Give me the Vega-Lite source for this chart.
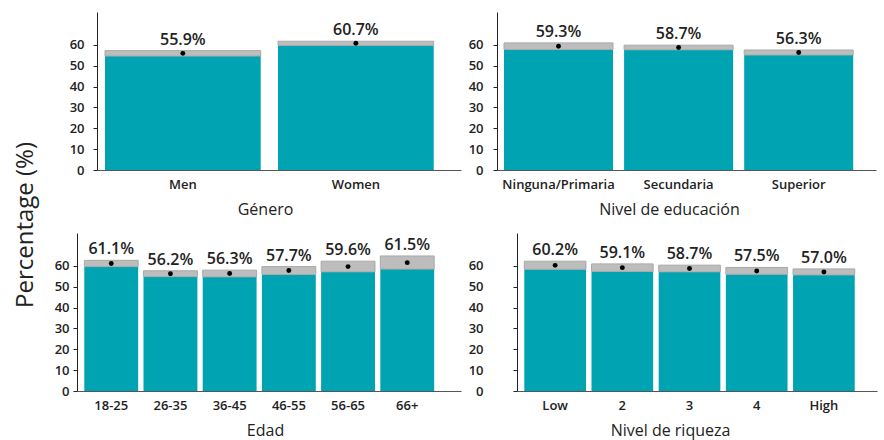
{
  "$schema": "https://vega.github.io/schema/vega-lite/v6.json",
  "padding": {"left": 13, "top": 12, "right": 3, "bottom": 3},
  "title": {"text": "Percentage (%)", "orient": "left", "anchor": "middle", "fontSize": 24, "fontWeight": 500, "offset": 13, "color": "#222", "font": "Open Sans"},
  "datasets": {
    "d": [
      {"g": "Género", "cat": "Men", "est": 55.9, "lo": 54.6, "hi": 57.2, "lbl": "55.9%"},
      {"g": "Género", "cat": "Women", "est": 60.7, "lo": 59.7, "hi": 61.7, "lbl": "60.7%"},
      {"g": "Educ", "cat": "Ninguna/Primaria", "est": 59.3, "lo": 57.7, "hi": 60.9, "lbl": "59.3%"},
      {"g": "Educ", "cat": "Secundaria", "est": 58.7, "lo": 57.6, "hi": 59.8, "lbl": "58.7%"},
      {"g": "Educ", "cat": "Superior", "est": 56.3, "lo": 55.1, "hi": 57.5, "lbl": "56.3%"},
      {"g": "Edad", "cat": "18-25", "est": 61.1, "lo": 59.6, "hi": 62.6, "lbl": "61.1%"},
      {"g": "Edad", "cat": "26-35", "est": 56.2, "lo": 54.8, "hi": 57.6, "lbl": "56.2%"},
      {"g": "Edad", "cat": "36-45", "est": 56.3, "lo": 54.7, "hi": 57.9, "lbl": "56.3%"},
      {"g": "Edad", "cat": "46-55", "est": 57.7, "lo": 55.8, "hi": 59.6, "lbl": "57.7%"},
      {"g": "Edad", "cat": "56-65", "est": 59.6, "lo": 57.1, "hi": 62.2, "lbl": "59.6%"},
      {"g": "Edad", "cat": "66+", "est": 61.5, "lo": 58.4, "hi": 64.7, "lbl": "61.5%"},
      {"g": "Riq", "cat": "Low", "est": 60.2, "lo": 58.3, "hi": 62.2, "lbl": "60.2%"},
      {"g": "Riq", "cat": "2", "est": 59.1, "lo": 57.3, "hi": 60.9, "lbl": "59.1%"},
      {"g": "Riq", "cat": "3", "est": 58.7, "lo": 57.1, "hi": 60.3, "lbl": "58.7%"},
      {"g": "Riq", "cat": "4", "est": 57.5, "lo": 55.9, "hi": 59.2, "lbl": "57.5%"},
      {"g": "Riq", "cat": "High", "est": 57.0, "lo": 55.6, "hi": 58.5, "lbl": "57.0%"}
    ]
  },
  "columns": 1,
  "align": "none",
  "spacing": 16,
  "concat": [
    {
      "spacing": -27,
      "hconcat": [
        {"width": 1, "height": 1, "data": {"values": []}, "mark": "point"},
        {
          "spacing": 7,
          "hconcat": [
            {
              "width": 364, "height": 158,
              "data": {"name": "d"},
              "transform": [{"filter": "datum.g === 'Género'"}],
              "encoding": {"x": {"field": "cat", "type": "nominal", "sort": null, "scale": {"paddingInner": 0.1, "paddingOuter": 0.102, "align": 0.227}, "axis": {"title": "Género", "titleX": 168}}},
              "layer": [
                {"mark": {"type": "bar", "color": "#00a3b2"}, "encoding": {"y": {"field": "lo", "type": "quantitative", "title": null, "scale": {"domain": [0, 75.7], "nice": false}, "axis": {"values": [0, 10, 20, 30, 40, 50, 60], "labelPadding": 9, "minExtent": 46, "maxExtent": 46}}}},
                {"mark": {"type": "bar", "fill": "#bdbdbd", "stroke": "#a9a9a9", "strokeWidth": 1}, "encoding": {"y": {"field": "lo", "type": "quantitative", "title": null, "axis": {"values": [0, 10, 20, 30, 40, 50, 60], "labelPadding": 9, "minExtent": 46, "maxExtent": 46}}, "y2": {"field": "hi", "title": null}}},
                {"mark": {"type": "point", "filled": true, "color": "#000", "size": 24, "opacity": 1}, "encoding": {"y": {"field": "est", "type": "quantitative", "title": null, "axis": {"values": [0, 10, 20, 30, 40, 50, 60], "labelPadding": 9, "minExtent": 46, "maxExtent": 46}}}},
                {"mark": {"type": "text", "baseline": "bottom", "dy": -3, "fontSize": 16, "fontWeight": 600, "color": "#222"}, "encoding": {"y": {"field": "hi", "type": "quantitative", "title": null, "axis": {"values": [0, 10, 20, 30, 40, 50, 60], "labelPadding": 9, "minExtent": 46, "maxExtent": 46}}, "text": {"field": "lbl"}}}
              ]
            },
            {
              "width": 379, "height": 158,
              "data": {"name": "d"},
              "transform": [{"filter": "datum.g === 'Educ'"}],
              "encoding": {"x": {"field": "cat", "type": "nominal", "sort": null, "scale": {"paddingInner": 0.092, "paddingOuter": 0.124, "align": 0.235}, "axis": {"title": "Nivel de educación", "titleX": 172}}},
              "layer": [
                {"mark": {"type": "bar", "color": "#00a3b2"}, "encoding": {"y": {"field": "lo", "type": "quantitative", "title": null, "scale": {"domain": [0, 75.7], "nice": false}, "axis": {"values": [0, 10, 20, 30, 40, 50, 60], "labelPadding": 10, "minExtent": 27, "maxExtent": 27}}}},
                {"mark": {"type": "bar", "fill": "#bdbdbd", "stroke": "#a9a9a9", "strokeWidth": 1}, "encoding": {"y": {"field": "lo", "type": "quantitative", "title": null, "axis": {"values": [0, 10, 20, 30, 40, 50, 60], "labelPadding": 10, "minExtent": 27, "maxExtent": 27}}, "y2": {"field": "hi", "title": null}}},
                {"mark": {"type": "point", "filled": true, "color": "#000", "size": 24, "opacity": 1}, "encoding": {"y": {"field": "est", "type": "quantitative", "title": null, "axis": {"values": [0, 10, 20, 30, 40, 50, 60], "labelPadding": 10, "minExtent": 27, "maxExtent": 27}}}},
                {"mark": {"type": "text", "baseline": "bottom", "dy": -3, "fontSize": 16, "fontWeight": 600, "color": "#222"}, "encoding": {"y": {"field": "hi", "type": "quantitative", "title": null, "axis": {"values": [0, 10, 20, 30, 40, 50, 60], "labelPadding": 10, "minExtent": 27, "maxExtent": 27}}, "text": {"field": "lbl"}}}
              ]
            }
          ]
        }
      ]
    },
    {
      "spacing": 6,
      "hconcat": [
        {
          "width": 384, "height": 158,
          "data": {"name": "d"},
          "transform": [{"filter": "datum.g === 'Edad'"}],
          "encoding": {"x": {"field": "cat", "type": "nominal", "sort": null, "scale": {"paddingInner": 0.09, "paddingOuter": 0.288, "align": 0.214}, "axis": {"title": "Edad", "titleX": 188}}},
          "layer": [
            {"mark": {"type": "bar", "color": "#00a3b2"}, "encoding": {"y": {"field": "lo", "type": "quantitative", "title": null, "scale": {"domain": [0, 75.7], "nice": false}, "axis": {"values": [0, 10, 20, 30, 40, 50, 60], "labelPadding": 4, "minExtent": 26, "maxExtent": 26}}}},
            {"mark": {"type": "bar", "fill": "#bdbdbd", "stroke": "#a9a9a9", "strokeWidth": 1}, "encoding": {"y": {"field": "lo", "type": "quantitative", "title": null, "axis": {"values": [0, 10, 20, 30, 40, 50, 60], "labelPadding": 4, "minExtent": 26, "maxExtent": 26}}, "y2": {"field": "hi", "title": null}}},
            {"mark": {"type": "point", "filled": true, "color": "#000", "size": 24, "opacity": 1}, "encoding": {"y": {"field": "est", "type": "quantitative", "title": null, "axis": {"values": [0, 10, 20, 30, 40, 50, 60], "labelPadding": 4, "minExtent": 26, "maxExtent": 26}}}},
            {"mark": {"type": "text", "baseline": "bottom", "dy": -3, "fontSize": 16, "fontWeight": 600, "color": "#222"}, "encoding": {"y": {"field": "hi", "type": "quantitative", "title": null, "axis": {"values": [0, 10, 20, 30, 40, 50, 60], "labelPadding": 4, "minExtent": 26, "maxExtent": 26}}, "text": {"field": "lbl"}}}
          ]
        },
        {
          "width": 360, "height": 158,
          "data": {"name": "d"},
          "transform": [{"filter": "datum.g === 'Riq'"}],
          "encoding": {"x": {"field": "cat", "type": "nominal", "sort": null, "scale": {"paddingInner": 0.082, "paddingOuter": 0.22, "align": 0.247}, "axis": {"title": "Nivel de riqueza", "titleX": 153}}},
          "layer": [
            {"mark": {"type": "bar", "color": "#00a3b2"}, "encoding": {"y": {"field": "lo", "type": "quantitative", "title": null, "scale": {"domain": [0, 75.7], "nice": false}, "axis": {"values": [0, 10, 20, 30, 40, 50, 60], "labelPadding": 30, "minExtent": 50, "maxExtent": 50}}}},
            {"mark": {"type": "bar", "fill": "#bdbdbd", "stroke": "#a9a9a9", "strokeWidth": 1}, "encoding": {"y": {"field": "lo", "type": "quantitative", "title": null, "axis": {"values": [0, 10, 20, 30, 40, 50, 60], "labelPadding": 30, "minExtent": 50, "maxExtent": 50}}, "y2": {"field": "hi", "title": null}}},
            {"mark": {"type": "point", "filled": true, "color": "#000", "size": 24, "opacity": 1}, "encoding": {"y": {"field": "est", "type": "quantitative", "title": null, "axis": {"values": [0, 10, 20, 30, 40, 50, 60], "labelPadding": 30, "minExtent": 50, "maxExtent": 50}}}},
            {"mark": {"type": "text", "baseline": "bottom", "dy": -3, "fontSize": 16, "fontWeight": 600, "color": "#222"}, "encoding": {"y": {"field": "hi", "type": "quantitative", "title": null, "axis": {"values": [0, 10, 20, 30, 40, 50, 60], "labelPadding": 30, "minExtent": 50, "maxExtent": 50}}, "text": {"field": "lbl"}}}
          ]
        }
      ]
    }
  ],
  "config": {
    "view": {"stroke": null},
    "font": "Open Sans",
    "axis": {"grid": false, "labelFont": "Open Sans", "titleFont": "Open Sans", "labelColor": "#222", "titleColor": "#222", "labelOverlap": false},
    "axisX": {"tickSize": 0, "ticks": false, "labelPadding": 8, "labelFontSize": 13, "labelFontWeight": 600, "labelAngle": 0, "titleFontSize": 16, "titleFontWeight": 500, "titlePadding": 10, "domainColor": "#555"},
    "axisY": {"labelFontSize": 13, "labelFontWeight": 600, "tickSize": 4, "domainColor": "#222", "tickColor": "#222"}
  }
}
